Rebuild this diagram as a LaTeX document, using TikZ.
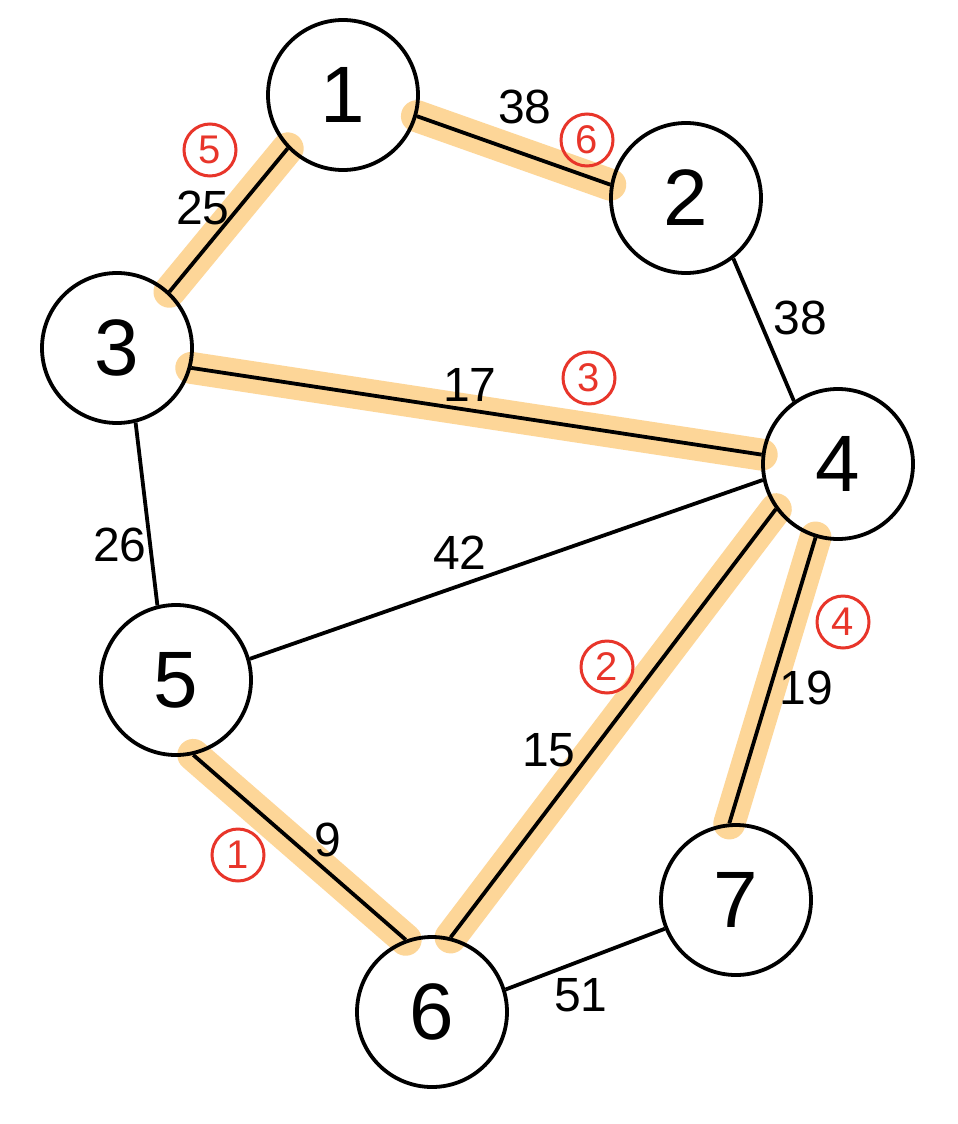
\documentclass[tikz,border=0pt]{standalone}
\usepackage{fontspec}
\setmainfont{Liberation Sans}
\usetikzlibrary{backgrounds}
\definecolor{hl}{HTML}{FDD698}
\definecolor{redmark}{HTML}{E8352A}
\begin{document}
\begin{tikzpicture}[x=0.5pt,y=-0.5pt,
  vertex/.style={circle,draw=black,line width=1.9pt,minimum size=75pt,inner sep=0pt,font=\fontsize{40}{40}\selectfont},
  edge/.style={line width=1.9pt,black},
  hilite/.style={line width=16pt,hl,line cap=round},
  wlabel/.style={font=\fontsize{24}{24}\selectfont,inner sep=0pt},
  order/.style={circle,draw=redmark,text=redmark,line width=1.5pt,minimum size=26pt,inner sep=0pt,font=\fontsize{20}{20}\selectfont}]
\useasboundingbox (0,0) rectangle (958,1124);
% vertices
\node[vertex] (n1) at (343,95) {1};
\node[vertex] (n2) at (686,198) {2};
\node[vertex] (n3) at (117,348) {3};
\node[vertex] (n4) at (838,464) {4};
\node[vertex] (n5) at (176,680) {5};
\node[vertex] (n6) at (432,1012) {6};
\node[vertex] (n7) at (736,900) {7};
% highlights
\begin{pgfonlayer}{background}
\fill[white] (0,0) rectangle (958,1124);
\draw[hilite] (n1.-16.5) -- (n2.170);
\draw[hilite] (n1.224) -- (n3.47);
\draw[hilite] (n3.-15) -- (n4.173);
\draw[hilite] (n4.216) -- (n6.76);
\draw[hilite] (n4.253) -- (n7.95);
\draw[hilite] (n5.-77) -- (n6.110);
\end{pgfonlayer}
% edges
\draw[edge] (n1.-16.5) -- (n2.170);
\draw[edge] (n1.224) -- (n3.47);
\draw[edge] (n3.-15) -- (n4.173);
\draw[edge] (n4.216) -- (n6.76);
\draw[edge] (n4.253) -- (n7.95);
\draw[edge] (n5.-77) -- (n6.110);
\draw[edge] (n2.-52) -- (n4.125);
\draw[edge] (n3.-76) -- (n5.104);
\draw[edge] (n5.16) -- (n4.192);
\draw[edge] (n6.17) -- (n7.202);
% weights
\node[wlabel] (w12) at (525,107) {38};
\node[wlabel] (w13) at (203,208) {25};
\node[wlabel] (w24) at (800,318) {38};
\node[wlabel] (w34) at (470,385) {17};
\node[wlabel] (w35) at (120,545) {26};
\node[wlabel] (w54) at (460,553) {42};
\node[wlabel] (w46) at (549,750) {15};
\node[wlabel] (w47) at (806,688) {19};
\node[wlabel] (w56) at (328,840) {9};
\node[wlabel] (w67) at (581,995) {51};
% order marks
\node[order] (o1) at (238,855) {1};
\node[order] (o2) at (607,667) {2};
\node[order] (o3) at (589,378) {3};
\node[order] (o4) at (843,622) {4};
\node[order] (o5) at (210,150) {5};
\node[order] (o6) at (587,140) {6};
\end{tikzpicture}
\end{document}
